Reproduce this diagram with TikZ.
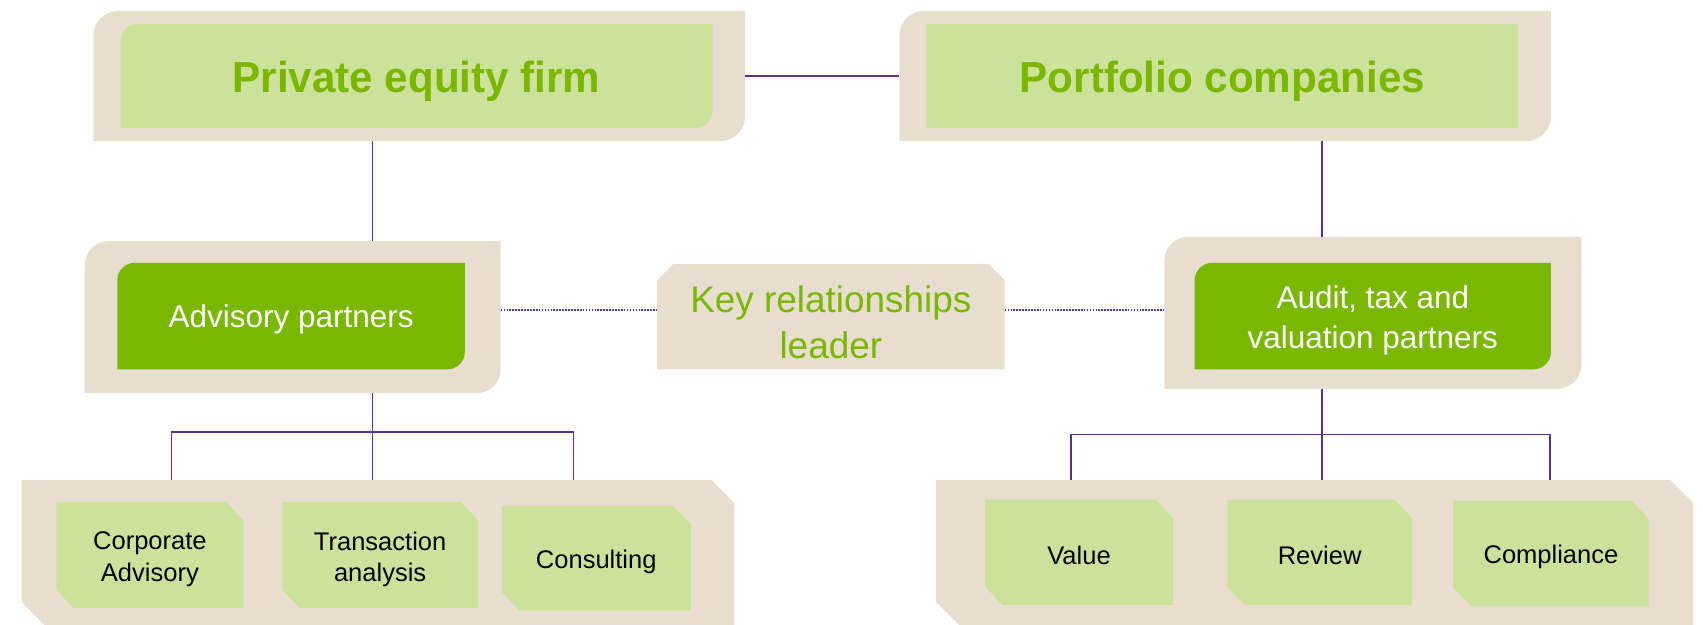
\documentclass[tikz,border=0pt]{standalone}
\usepackage{fontspec}
\setmainfont{Liberation Sans}
\newfontfamily\titlefont{Liberation Sans}[FakeStretch=0.97]
\newcommand\lowerby[2]{\raisebox{0pt}[\dimexpr\height+#1+#1\relax][\depth]{#2}}
\definecolor{beige}{HTML}{E7DECF}
\definecolor{lgreen}{HTML}{CCE29B}
\definecolor{dgreen}{HTML}{7AB800}
\definecolor{tgreen}{HTML}{7AB800}
\definecolor{purp}{HTML}{5E2F94}
\tikzset{
  box/.style={inner sep=0pt, outer sep=0pt, align=center},
  tlbr/.style 2 args={path picture={\fill[#1] (path picture bounding box.south west) -- ([yshift=-#2]path picture bounding box.north west) arc[start angle=180,end angle=90,radius=#2] -- (path picture bounding box.north east) -- ([yshift=#2]path picture bounding box.south east) arc[start angle=0,end angle=-90,radius=#2] -- cycle;}},
  plainfill/.style={path picture={\fill[#1] (path picture bounding box.south west) rectangle (path picture bounding box.north east);}},
  nesw/.style n args={3}{path picture={\fill[#1] (path picture bounding box.north west) -- ([xshift=-#2]path picture bounding box.north east) -- ([yshift=-#3]path picture bounding box.north east) -- (path picture bounding box.south east) -- ([xshift=#2]path picture bounding box.south west) -- ([yshift=#3]path picture bounding box.south west) -- cycle;}},
  topcham/.style n args={3}{path picture={\fill[#1] (path picture bounding box.south west) -- ([yshift=-#3]path picture bounding box.north west) -- ([xshift=#2]path picture bounding box.north west) -- ([xshift=-#2]path picture bounding box.north east) -- ([yshift=-#3]path picture bounding box.north east) -- (path picture bounding box.south east) -- cycle;}},
  titletext/.style={text=tgreen, font=\titlefont\bfseries\fontsize{40}{48}\selectfont},
  parttext/.style={text=white, font=\fontsize{29}{36}\selectfont},
  keytext/.style={text=tgreen, font=\fontsize{34}{42}\selectfont},
  subtext/.style={text=black, font=\fontsize{23.5}{29.2}\selectfont},
  conn/.style={draw=purp, line width=1.6pt},
  dotconn/.style={draw=purp, line width=1.9pt, dash pattern=on 1.5pt off 1.2pt},
}
\begin{document}
\begin{tikzpicture}[x=1pt,y=1pt]
\useasboundingbox (0,0) rectangle (1568,575.45);
% top level
\node[box, minimum width=600pt, minimum height=120pt, tlbr={beige}{23pt}] (pe) at (386,505.45) {};
\node[box, minimum width=545pt, minimum height=96pt, tlbr={lgreen}{16pt}, titletext] (peIn) at (383.5,505.45) {\lowerby{5pt}{Private equity firm}};
\node[box, minimum width=600pt, minimum height=120pt, tlbr={beige}{23pt}] (pc) at (1128,505.45) {};
\node[box, minimum width=545pt, minimum height=96pt, plainfill=lgreen, titletext] (pcIn) at (1125.5,505.45) {\lowerby{5pt}{Portfolio companies}};
% middle level
\node[box, minimum width=383pt, minimum height=140pt, tlbr={beige}{22pt}] (adv) at (269.5,283.45) {};
\node[box, minimum width=320pt, minimum height=98pt, tlbr={dgreen}{16pt}, parttext] (advIn) at (268,284.45) {\lowerby{3pt}{Advisory partners}};
\node[box, minimum width=384pt, minimum height=140pt, tlbr={beige}{22pt}] (aud) at (1264,287.45) {};
\node[box, minimum width=328pt, minimum height=98pt, tlbr={dgreen}{16pt}, parttext] (audIn) at (1264,284.45) {\lowerby{4pt}{Audit, tax and}\\valuation partners};
\node[box, minimum width=320pt, minimum height=97pt, topcham={beige}{15pt}{15pt}, keytext] (key) at (765,283.95) {\lowerby{5pt}{Key relationships}\\leader};
% bottom groups
\node[box, minimum width=656pt, minimum height=133.45pt, nesw={beige}{21pt}{21pt}] (botL) at (348,66.72) {};
\node[box, minimum width=697pt, minimum height=133.45pt, nesw={beige}{21pt}{21pt}] (botR) at (1210.5,66.72) {};
\node[box, minimum width=172pt, minimum height=98pt, nesw={lgreen}{16pt}{17pt}, subtext] (ca) at (138,64.45) {\lowerby{4pt}{Corporate}\\Advisory};
\node[box, minimum width=180pt, minimum height=98pt, nesw={lgreen}{16pt}{17pt}, subtext] (ta) at (350,64.45) {\lowerby{4pt}{Transaction}\\analysis};
\node[box, minimum width=174pt, minimum height=96pt, nesw={lgreen}{16pt}{17pt}, subtext] (cons) at (549,61.45) {\lowerby{3.5pt}{Consulting}};
\node[box, minimum width=173pt, minimum height=97pt, nesw={lgreen}{16pt}{17pt}, subtext] (val) at (993.5,66.95) {\lowerby{3pt}{Value}};
\node[box, minimum width=170pt, minimum height=97pt, nesw={lgreen}{16pt}{17pt}, subtext] (rev) at (1215,66.95) {\lowerby{3pt}{Review}};
\node[box, minimum width=180pt, minimum height=97pt, nesw={lgreen}{16pt}{17pt}, subtext] (comp) at (1428,65.95) {\lowerby{3pt}{Compliance}};
% connectors
\draw[conn] (pe) -- (pc);
\coordinate (lx) at (343,0);
\coordinate (rx) at (1217,0);
\draw[conn] (pe.south -| lx) -- (adv.north -| lx);
\draw[conn] (pc.south -| rx) -- (aud.north -| rx);
\draw[conn] (adv.south -| lx) -- (botL.north -| lx);
\draw[conn] (aud.south -| rx) -- (botR.north -| rx);
\coordinate (hl) at (158,177.45);
\coordinate (hr) at (528,177.45);
\draw[conn] (botL.north -| hl) -- (hl) -- (hr) -- (botL.north -| hr);
\coordinate (hl2) at (986,175.45);
\coordinate (hr2) at (1427,175.45);
\draw[conn] (botR.north -| hl2) -- (hl2) -- (hr2) -- (botR.north -| hr2);
\coordinate (dy) at (0,290.45);
\draw[dotconn] (adv.east |- dy) -- (key.west |- dy);
\draw[dotconn] (key.east |- dy) -- (aud.west |- dy);
\end{tikzpicture}
\end{document}
